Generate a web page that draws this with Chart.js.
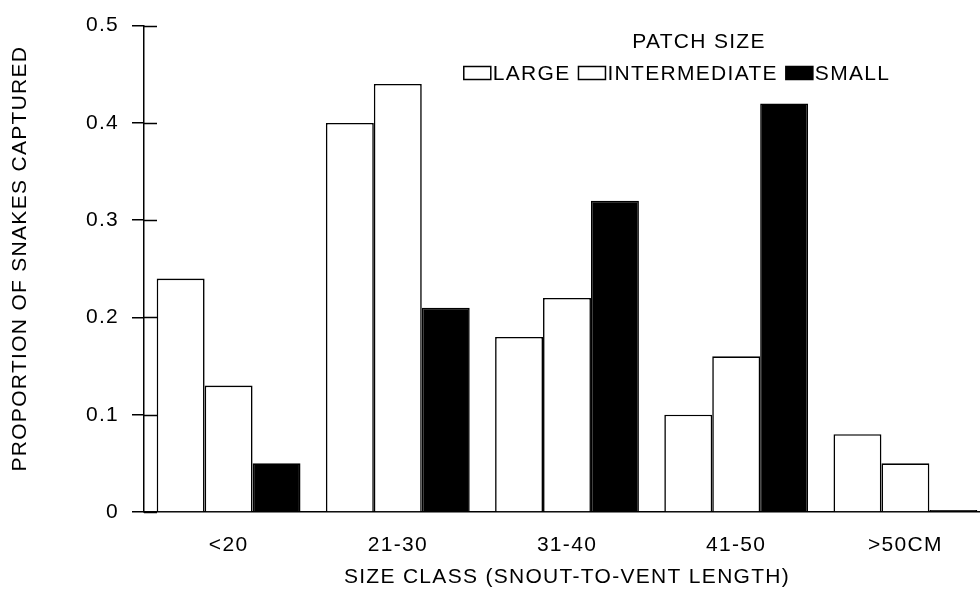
<!DOCTYPE html>
<html>
<head>
<meta charset="utf-8">
<script src="https://cdn.jsdelivr.net/npm/chart.js@4/dist/chart.umd.min.js"></script>
<style>
  html, body { margin: 0; padding: 0; background: #fff; overflow: hidden; width: 980px; height: 590px; }
  #wrap { width: 1000px; height: 590px; }
</style>
</head>
<body>
<div id="wrap"><canvas id="c" width="1000" height="590"></canvas></div>
<script>
// Snake captures by size class, grouped by habitat patch size
const sizeClasses = ['<20', '21-30', '31-40', '41-50', '>50CM'];
const largePatch = [0.24, 0.40, 0.18, 0.10, 0.08];
const intermediatePatch = [0.13, 0.44, 0.22, 0.16, 0.05];
const smallPatch = [0.05, 0.21, 0.32, 0.42, 0.00];
const seriesNames = ['LARGE', 'INTERMEDIATE', 'SMALL'];
const yTicks = [0, 0.1, 0.2, 0.3, 0.4, 0.5];
const legendTitle = 'PATCH SIZE';
const xTitle = 'SIZE CLASS (SNOUT-TO-VENT LENGTH)';
const yTitle = 'PROPORTION OF SNAKES CAPTURED';

const FONT_FAMILY = '"Liberation Sans", Arial, sans-serif';
const FONT_SIZE = 21;
const SPACING = '1.3px';
const FONT_CSS = FONT_SIZE + 'px ' + FONT_FAMILY;

// Slightly spaced lettering for every text run on the canvas
const letterSpacing = {
  id: 'letterSpacing',
  beforeUpdate(chart) { chart.ctx.letterSpacing = SPACING; },
  beforeLayout(chart) { chart.ctx.letterSpacing = SPACING; },
  beforeDraw(chart) { chart.ctx.letterSpacing = SPACING; }
};

// Tick marks on the value axis cross the axis line into the plot
const tickStubs = {
  id: 'tickStubs',
  afterDraw(chart) {
    const s = chart.scales.y;
    const ctx = chart.ctx;
    ctx.save();
    ctx.strokeStyle = '#000';
    ctx.lineWidth = 1.5;
    ctx.beginPath();
    s.ticks.forEach(t => {
      const py = Math.round(s.getPixelForValue(t.value)) + 0.5;
      ctx.moveTo(s.right, py);
      ctx.lineTo(s.right + 13, py);
    });
    ctx.stroke();
    ctx.restore();
  }
};

// Vertical axis caption, set a little above the middle of the axis
const yCaption = {
  id: 'yCaption',
  afterDraw(chart) {
    const ctx = chart.ctx;
    ctx.save();
    ctx.letterSpacing = SPACING;
    ctx.font = FONT_CSS;
    ctx.fillStyle = '#000';
    ctx.textAlign = 'center';
    ctx.textBaseline = 'middle';
    ctx.translate(20, chart.chartArea.top + 233);
    ctx.rotate(-Math.PI / 2);
    ctx.fillText(yTitle, 0, 0);
    ctx.restore();
  }
};

// Legend: heading above one row of swatches
const patchLegend = {
  id: 'patchLegend',
  afterDraw(chart) {
    const ctx = chart.ctx;
    ctx.save();
    ctx.letterSpacing = SPACING;
    ctx.font = FONT_CSS;
    ctx.fillStyle = '#000';
    ctx.textBaseline = 'middle';
    ctx.textAlign = 'center';
    ctx.fillText(legendTitle, 699, 42);

    const boxW = 27, boxH = 13, gap = 2, itemGap = 8, rowY = 73;
    const items = chart.data.datasets.map(d => ({
      label: d.label, fill: d.backgroundColor, w: ctx.measureText(d.label).width
    }));
    const total = items.reduce((a, it) => a + boxW + gap + it.w, 0) + itemGap * (items.length - 1);
    let x = 677 - total / 2;
    ctx.textAlign = 'left';
    items.forEach(it => {
      ctx.fillStyle = it.fill;
      ctx.fillRect(x, rowY - boxH / 2, boxW, boxH);
      ctx.lineWidth = 1.5;
      ctx.strokeStyle = '#000';
      ctx.strokeRect(x, rowY - boxH / 2, boxW, boxH);
      ctx.fillStyle = '#000';
      ctx.fillText(it.label, x + boxW + gap, rowY + 1);
      x += boxW + gap + it.w + itemGap;
    });
    ctx.restore();
  }
};

const barStyle = { borderColor: '#000', borderWidth: 1.6, borderSkipped: 'bottom' };

new Chart(document.getElementById('c'), {
  type: 'bar',
  data: {
    labels: sizeClasses,
    datasets: [
      Object.assign({ label: seriesNames[0], data: largePatch, backgroundColor: '#ffffff' }, barStyle),
      Object.assign({ label: seriesNames[1], data: intermediatePatch, backgroundColor: '#ffffff' }, barStyle),
      Object.assign({ label: seriesNames[2], data: smallPatch, backgroundColor: '#000000', minBarLength: 2 }, barStyle)
    ]
  },
  options: {
    responsive: false,
    animation: false,
    events: [],
    layout: { padding: { top: 22, right: 10, left: 0, bottom: 0 } },
    datasets: { bar: { categoryPercentage: 0.85, barPercentage: 1.0 } },
    plugins: {
      legend: { display: false },
      tooltip: { enabled: false }
    },
    scales: {
      x: {
        grid: { display: false, drawTicks: false, tickLength: 0 },
        border: { display: true, color: '#000', width: 1.5 },
        ticks: { color: '#000', padding: 21, font: { family: FONT_FAMILY, size: FONT_SIZE } },
        title: {
          display: true, text: xTitle, color: '#000',
          font: { family: FONT_FAMILY, size: FONT_SIZE },
          padding: { top: 0, bottom: 0 }
        },
        afterFit(s) { s.height = 78; }
      },
      y: {
        min: 0, max: 0.5,
        afterBuildTicks(s) { s.ticks = yTicks.map(v => ({ value: v })); },
        grid: { drawOnChartArea: false, drawTicks: true, tickLength: 12, color: '#000', lineWidth: 1.5 },
        border: { display: true, color: '#000', width: 1.5 },
        ticks: { color: '#000', padding: 13, font: { family: FONT_FAMILY, size: FONT_SIZE } },
        title: { display: false, text: yTitle },
        afterFit(s) { s.width = 144; }
      }
    }
  },
  plugins: [letterSpacing, tickStubs, yCaption, patchLegend]
});
</script>
</body>
</html>
